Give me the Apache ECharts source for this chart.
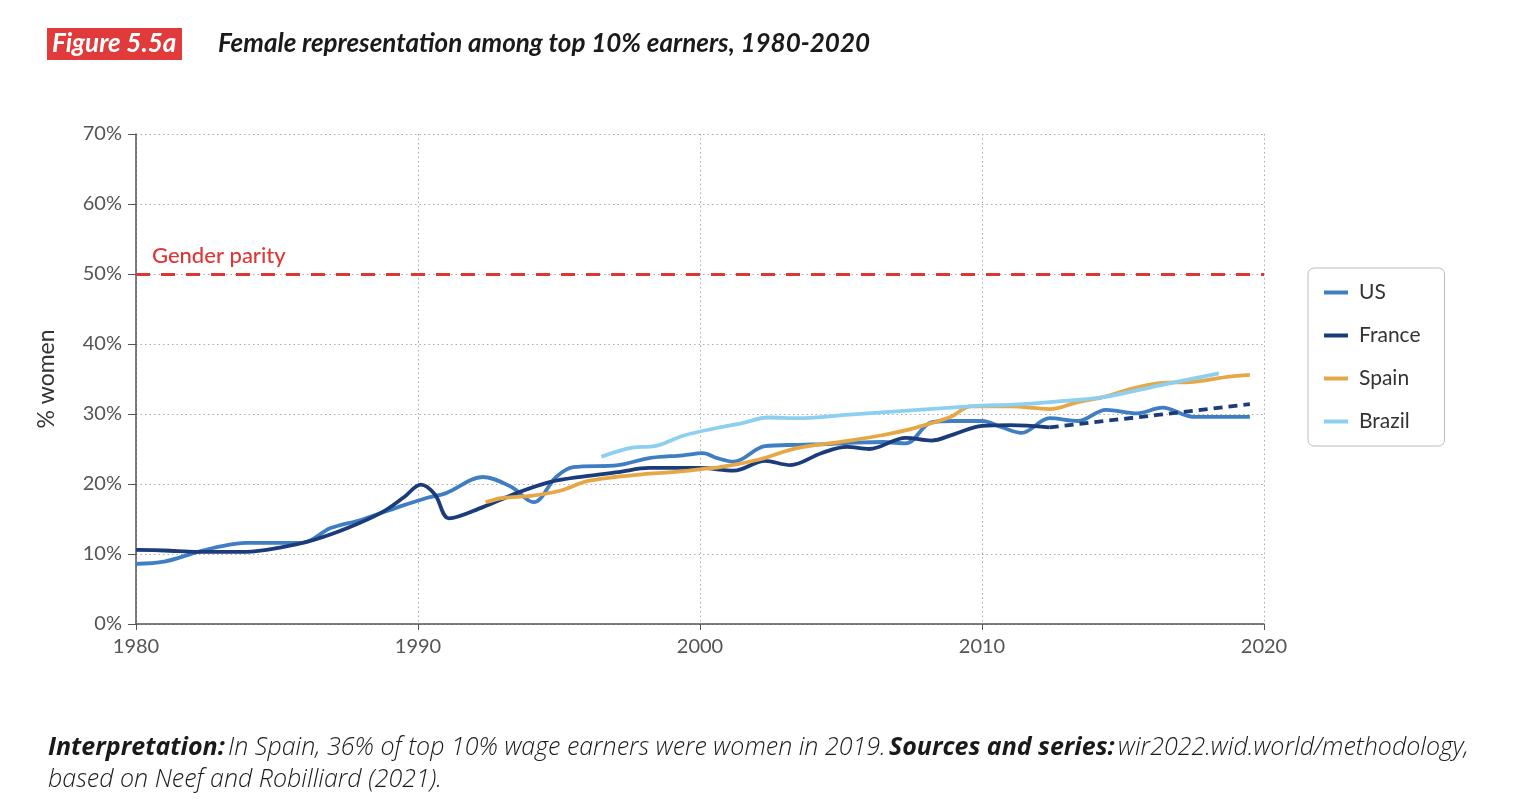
<!DOCTYPE html>
<html>
<head>
<meta charset="utf-8">
<script src="https://cdn.jsdelivr.net/npm/echarts@6/dist/echarts.min.js"></script>
<style>
html,body{margin:0;padding:0;background:#fff;}
#chart{width:1520px;height:808px;}
</style>
</head>
<body>
<div id="chart"></div>
<script>
// ---- Data (x = year, y = % women among top 10% earners) ----
const usData = [[1980,8.6],[1981,8.9],[1982.2,10.3],[1983,11.1],[1983.9,11.6],[1985.1,11.6],[1985.9,11.6],[1986.9,13.7],[1988,14.9],[1989.3,16.7],[1990.3,18.0],[1991,18.7],[1992.3,21.0],[1993.3,19.6],[1994.1,17.4],[1994.9,21.0],[1995.5,22.4],[1997.1,22.7],[1998.2,23.7],[1999.4,24.1],[2000.1,24.4],[2000.6,23.7],[2001.2,23.2],[2002.3,25.4],[2003.5,25.6],[2004.5,25.7],[2005.5,25.9],[2006.5,26.0],[2007.3,25.8],[2008.2,28.8],[2009,29.0],[2010,29.0],[2010.7,28.1],[2011.4,27.3],[2012.4,29.4],[2013.4,29.0],[2014.4,30.6],[2015.5,30.1],[2016.4,30.9],[2017.5,29.6],[2018.5,29.6],[2019.5,29.6]];
const franceData = [[1980,10.6],[1981,10.5],[1982.2,10.3],[1983.9,10.3],[1985.1,10.9],[1986.3,12.0],[1987.5,13.7],[1988.7,15.9],[1989.5,18.1],[1990.1,19.9],[1990.6,18.5],[1991.1,15.1],[1992.3,16.7],[1993.5,18.7],[1994.7,20.3],[1995.9,21.1],[1997.1,21.7],[1998.2,22.3],[2000,22.3],[2001.2,21.9],[2002.3,23.3],[2003.2,22.7],[2004.3,24.4],[2005.2,25.3],[2006,25.0],[2007.3,26.6],[2008.2,26.2],[2009,27.1],[2010,28.3],[2011,28.4],[2012.4,28.1]];
const franceProjection = [[2012.4,28.1],[2016.3,29.9],[2019.5,31.4]];
const spainData = [[1992.4,17.4],[1993,18.0],[1994,18.3],[1995,19.0],[1996,20.4],[1997,21.0],[1998,21.4],[1999,21.7],[2000,22.1],[2000.7,22.4],[2002.1,23.5],[2003.4,25.1],[2005.3,26.2],[2006.5,27.0],[2007.7,28.1],[2008.9,29.6],[2009.6,31.1],[2011,31.1],[2012.4,30.7],[2013.4,31.7],[2014.3,32.4],[2015.4,33.7],[2016.3,34.4],[2017.5,34.6],[2018.7,35.3],[2019.5,35.6]];
const brazilData = [[1996.5,23.9],[1997.6,25.2],[1998.4,25.4],[1999.4,26.9],[2000.6,28.0],[2001.5,28.7],[2002.4,29.5],[2003.5,29.4],[2005.3,29.9],[2007.1,30.4],[2008.9,30.9],[2010,31.2],[2011,31.3],[2012.4,31.7],[2014.3,32.4],[2016.3,34.1],[2018.4,35.8]];
const parityLevel = 50;
const seriesNames = ['US','France','Spain','Brazil'];
const yTicks = [0,10,20,30,40,50,60,70];
const xTicks = [1980,1990,2000,2010,2020];

const colors = {US:'#3f7ec3', France:'#1b3b7b', Spain:'#e6a847', Brazil:'#8dcff1'};
const FONT = 'Lato, "Noto Sans", sans-serif';
const FOOT = '"Open Sans", Lato, sans-serif';

const chart = echarts.init(document.getElementById('chart'));
const lineSeries = (name, data, color, extra) => Object.assign({
  name, type:'line', data, showSymbol:false, symbol:'none', smooth:0.35,
  lineStyle:{color, width:3.8}, itemStyle:{color}, silent:true, animation:false, z:3
}, extra||{});

chart.setOption({
  animation:false,
  textStyle:{fontFamily:FONT},
  grid:{left:136, right:256, top:134, bottom:184},
  xAxis:{
    type:'value', min:xTicks[0], max:xTicks[xTicks.length-1], interval:10,
    axisLine:{show:true, onZero:false, lineStyle:{color:'#555', width:1.5}},
    axisTick:{show:true, length:6, lineStyle:{color:'#555'}},
    axisLabel:{color:'#555', fontSize:20, margin:13, fontFamily:FONT, formatter:v => String(v)},
    splitLine:{show:true, lineStyle:{color:'#aaa', type:[1.5,3], width:1}}
  },
  yAxis:{
    type:'value', min:yTicks[0], max:yTicks[yTicks.length-1], interval:10,
    name:'% women', nameLocation:'middle', nameGap:78, nameRotate:90,
    nameTextStyle:{color:'#333', fontSize:23, fontFamily:FONT},
    axisLine:{show:true, lineStyle:{color:'#555', width:1.5}},
    axisTick:{show:true, length:8, lineStyle:{color:'#555'}},
    axisLabel:{color:'#555', fontSize:20, margin:14, formatter:'{value}%', fontFamily:FONT},
    splitLine:{show:true, lineStyle:{color:'#aaa', type:[1.5,3], width:1}}
  },
  legend:{
    data:seriesNames, orient:'vertical', left:1308, top:268,
    padding:[13,24,13,16], itemGap:20, itemWidth:24, itemHeight:4, icon:'rect',
    borderColor:'#bbb', borderWidth:1, borderRadius:6,
    textStyle:{color:'#333', fontSize:21, lineHeight:23, fontFamily:FONT, padding:[0,0,0,6]}
  },
  series:[
    {
      name:'parity', type:'line', data:[], silent:true, z:2,
      markLine:{
        silent:true, symbol:'none', animation:false,
        lineStyle:{color:'#e03535', width:3, type:[14,11]},
        label:{show:true, position:'insideStartTop', formatter:'Gender parity', color:'#e03535', fontSize:22, fontFamily:FONT, fontWeight:500, distance:[16,7]},
        data:[{yAxis:parityLevel}]
      }
    },
    lineSeries('US', usData, colors.US),
    lineSeries('France', franceData, colors.France),
    lineSeries('France projection', franceProjection, colors.France, {smooth:false, lineStyle:{color:colors.France, width:3.8, type:[9,6]}}),
    lineSeries('Spain', spainData, colors.Spain),
    lineSeries('Brazil', brazilData, colors.Brazil)
  ],
  graphic:[
    {type:'rect', left:47, top:28, shape:{width:135, height:32}, style:{fill:'#e03a3a'}},
    {type:'text', left:52, top:31, style:{text:'Figure 5.5a', fill:'#fff', font:'italic bold 26px '+FONT}},
    {type:'text', left:218, top:31, style:{text:'Female representation among top 10% earners, 1980-2020', fill:'#1a1a1a', font:'italic bold 26px '+FONT}},
    {type:'text', left:48, top:735, style:{
      text:'{b|Interpretation:} {n|In Spain, 36% of top 10% wage earners were women in 2019.} {b|Sources and series:} {n|wir2022.wid.world/methodology,}\n{n|based on Neef and Robilliard (2021).}',
      rich:{
        b:{fontFamily:FOOT, fontStyle:'italic', fontWeight:'bold', fontSize:25, fill:'#1a1a1a', lineHeight:32},
        n:{fontFamily:FOOT, fontStyle:'italic', fontWeight:300, fontSize:25, fill:'#1a1a1a', lineHeight:32}
      }
    }}
  ]
});
</script>
</body>
</html>
